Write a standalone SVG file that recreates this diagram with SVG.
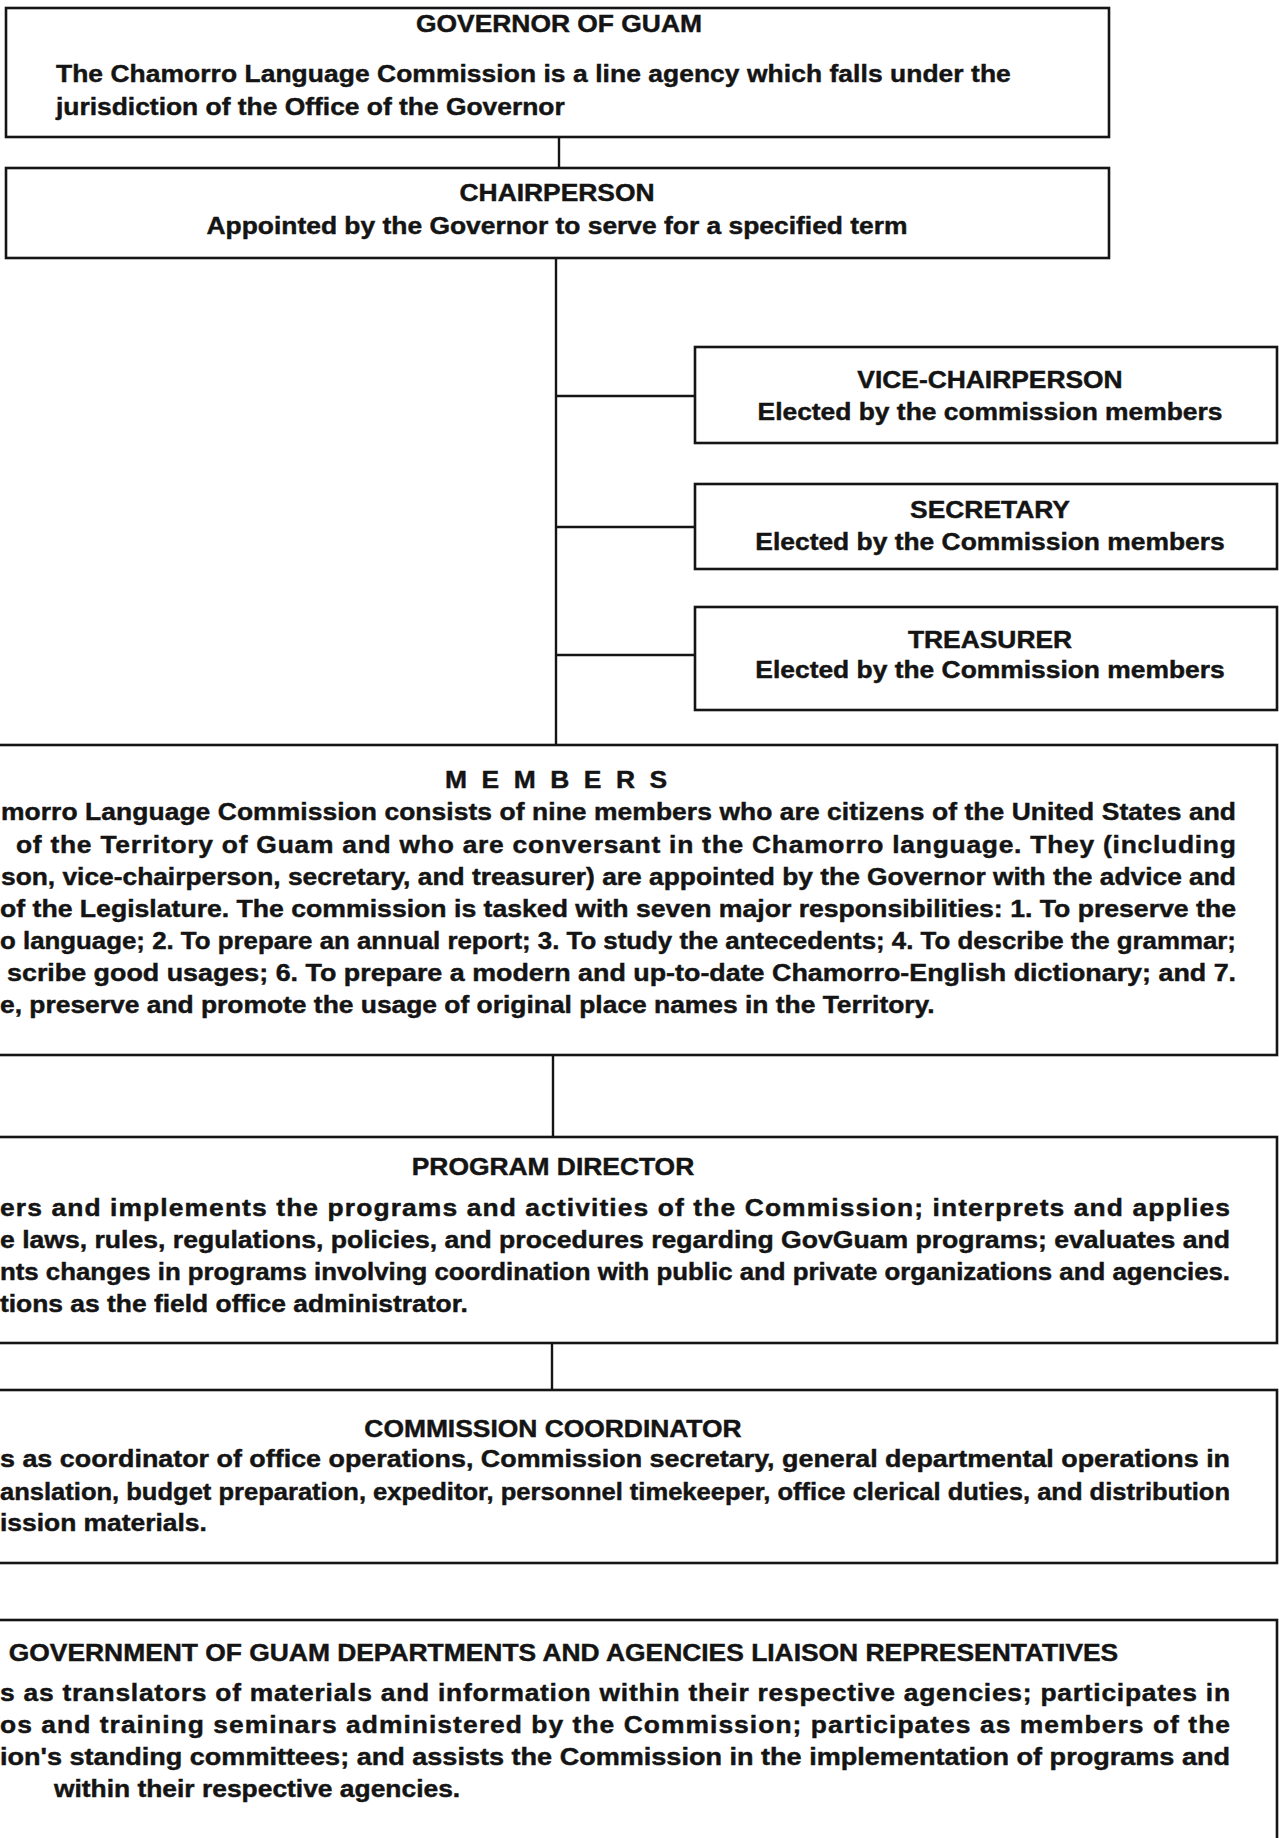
<svg xmlns="http://www.w3.org/2000/svg" width="1279" height="1838" viewBox="0 0 1279 1838">
  <style>
    .box { fill: #fff; stroke: #151515; stroke-width: 2.6; }
    .wire { stroke: #151515; stroke-width: 2.4; fill: none; }
    .t { font-family: "Liberation Sans", Arial, Helvetica, sans-serif; font-weight: 700; font-size: 24px; fill: #141414; stroke: #141414; stroke-width: 0.45; }
    .c { text-anchor: middle; }
  </style>
  <rect x="0" y="0" width="1279" height="1838" fill="#fff"/>

  <!-- connectors -->
  <g id="connectors">
    <line class="wire" x1="559" y1="137" x2="559" y2="168"/>
    <line class="wire" x1="556" y1="258" x2="556" y2="745"/>
    <line class="wire" x1="556" y1="396" x2="695" y2="396"/>
    <line class="wire" x1="556" y1="527" x2="695" y2="527"/>
    <line class="wire" x1="556" y1="655" x2="695" y2="655"/>
    <line class="wire" x1="553" y1="1055" x2="553" y2="1137"/>
    <line class="wire" x1="552" y1="1343" x2="552" y2="1390"/>
  </g>

  <g id="governor">
    <rect class="box" x="6" y="8" width="1103" height="129"/>
    <g transform="scale(1.1 1)">
      <text class="t c" x="508.2" y="32">GOVERNOR OF GUAM</text>
      <text class="t" x="50.9" y="82" textLength="868" lengthAdjust="spacing">The Chamorro Language Commission is a line agency which falls under the</text>
      <text class="t" x="50.9" y="115">jurisdiction of the Office of the Governor</text>
    </g>
  </g>

  <g id="chairperson">
    <rect class="box" x="6" y="168" width="1103" height="90"/>
    <g transform="scale(1.1 1)">
      <text class="t c" x="506.4" y="201">CHAIRPERSON</text>
      <text class="t c" x="506.4" y="234">Appointed by the Governor to serve for a specified term</text>
    </g>
  </g>

  <g id="vice-chairperson">
    <rect class="box" x="695" y="347" width="582" height="96"/>
    <g transform="scale(1.1 1)">
      <text class="t c" x="900" y="388">VICE-CHAIRPERSON</text>
      <text class="t c" x="900" y="420">Elected by the commission members</text>
    </g>
  </g>

  <g id="secretary">
    <rect class="box" x="695" y="484" width="582" height="85"/>
    <g transform="scale(1.1 1)">
      <text class="t c" x="900" y="518">SECRETARY</text>
      <text class="t c" x="900" y="550">Elected by the Commission members</text>
    </g>
  </g>

  <g id="treasurer">
    <rect class="box" x="695" y="607" width="582" height="103"/>
    <g transform="scale(1.1 1)">
      <text class="t c" x="900" y="648">TREASURER</text>
      <text class="t c" x="900" y="678">Elected by the Commission members</text>
    </g>
  </g>

  <g id="members">
    <rect class="box" x="-10" y="745" width="1287" height="310"/>
    <g transform="scale(1.1 1)">
      <text class="t c" x="505.5" y="788" textLength="202" lengthAdjust="spacing">M E M B E R S</text>
      <text class="t" x="0.9" y="820" textLength="1122.7" lengthAdjust="spacing">morro Language Commission consists of nine members who are citizens of the United States and</text>
      <text class="t" x="14.5" y="853" textLength="1109" lengthAdjust="spacing">of the Territory of Guam and who are conversant in the Chamorro language. They (including</text>
      <text class="t" x="0.9" y="885" textLength="1122.7" lengthAdjust="spacingAndGlyphs">son, vice-chairperson, secretary, and treasurer) are appointed by the Governor with the advice and</text>
      <text class="t" x="0" y="917" textLength="1123.6" lengthAdjust="spacingAndGlyphs">of the Legislature. The commission is tasked with seven major responsibilities: 1. To preserve the</text>
      <text class="t" x="0" y="949" textLength="1123.6" lengthAdjust="spacingAndGlyphs">o language; 2. To prepare an annual report; 3. To study the antecedents; 4. To describe the grammar;</text>
      <text class="t" x="6.4" y="981" textLength="1117.3" lengthAdjust="spacingAndGlyphs">scribe good usages; 6. To prepare a modern and up-to-date Chamorro-English dictionary; and 7.</text>
      <text class="t" x="0" y="1013">e, preserve and promote the usage of original place names in the Territory.</text>
    </g>
  </g>

  <g id="program-director">
    <rect class="box" x="-10" y="1137" width="1287" height="206"/>
    <g transform="scale(1.1 1)">
      <text class="t c" x="502.7" y="1175">PROGRAM DIRECTOR</text>
      <text class="t" x="0" y="1216" textLength="1118.2" lengthAdjust="spacing">ers and implements the programs and activities of the Commission; interprets and applies</text>
      <text class="t" x="0" y="1248" textLength="1118.2" lengthAdjust="spacingAndGlyphs">e laws, rules, regulations, policies, and procedures regarding GovGuam programs; evaluates and</text>
      <text class="t" x="0" y="1280" textLength="1118.2" lengthAdjust="spacingAndGlyphs">nts changes in programs involving coordination with public and private organizations and agencies.</text>
      <text class="t" x="0" y="1312">tions as the field office administrator.</text>
    </g>
  </g>

  <g id="commission-coordinator">
    <rect class="box" x="-10" y="1390" width="1287" height="173"/>
    <g transform="scale(1.1 1)">
      <text class="t c" x="502.7" y="1437">COMMISSION COORDINATOR</text>
      <text class="t" x="0" y="1467" textLength="1118.2" lengthAdjust="spacingAndGlyphs">s as coordinator of office operations, Commission secretary, general departmental operations in</text>
      <text class="t" x="0" y="1500" textLength="1118.2" lengthAdjust="spacingAndGlyphs">anslation, budget preparation, expeditor, personnel timekeeper, office clerical duties, and distribution</text>
      <text class="t" x="0" y="1531">ission materials.</text>
    </g>
  </g>

  <g id="liaison-representatives">
    <rect class="box" x="-10" y="1620" width="1287" height="240"/>
    <g transform="scale(1.1 1)">
      <text class="t" x="8" y="1661">GOVERNMENT OF GUAM DEPARTMENTS AND AGENCIES LIAISON REPRESENTATIVES</text>
      <text class="t" x="0" y="1701" textLength="1118.2" lengthAdjust="spacing">s as translators of materials and information within their respective agencies; participates in</text>
      <text class="t" x="0" y="1733" textLength="1118.2" lengthAdjust="spacing">os and training seminars administered by the Commission; participates as members of the</text>
      <text class="t" x="0" y="1765" textLength="1118.2" lengthAdjust="spacingAndGlyphs">ion's standing committees; and assists the Commission in the implementation of programs and</text>
      <text class="t" x="49" y="1797">within their respective agencies.</text>
    </g>
  </g>
</svg>
